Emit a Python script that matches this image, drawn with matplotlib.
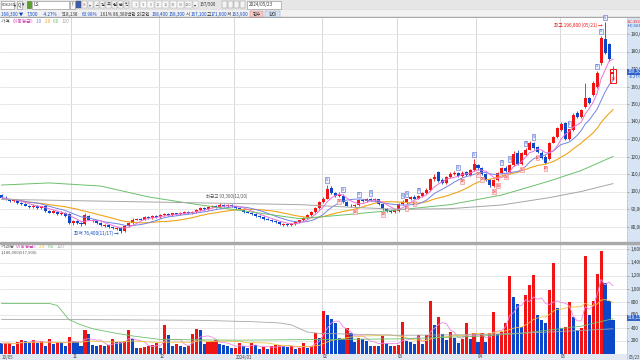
import numpy as np
import pandas as pd
import matplotlib
matplotlib.use("Agg")
import matplotlib.pyplot as plt
from matplotlib.patches import Rectangle
from matplotlib.lines import Line2D
from matplotlib.transforms import blended_transform_factory as blend

plt.rcParams['font.family'] = ['Noto Sans CJK KR', 'DejaVu Sans']

# ---------------- data (price in thousand won, volume in thousand shares) -------------
month_labels = ["10/05", "11", "12", "2024/01", "02", "03", "04", "05"]
month_start_idx = [0, 18, 40, 59, 81, 100, 120, 141]
last_date = "05/23"

opens = [98, 96.5, 95.5, 94.5, 95, 93.5, 93, 92, 91, 92,
         90.5, 92, 89, 88, 88.5, 87, 88, 87, 82, 83,
         82, 81.5, 86, 84, 83, 82, 80.5, 81, 79.5, 78.5,
         79, 77.5, 80.5, 82, 84, 84.5, 84, 85.5, 85, 86,
         85.5, 86.5, 87.2, 86.5, 87.5, 87, 88, 88.5, 87.5, 88.5,
         89.5, 90.5, 90, 91, 92, 91, 92.2, 91.5, 92.5, 91.5,
         90.5, 90, 88.5, 88, 87, 86, 85.5, 84.5, 84, 83,
         82.5, 81, 81.5, 81, 81.5, 82.5, 83.5, 85, 86.5, 88.5,
         90.5, 94, 96, 102, 99, 97.5, 97.5, 94, 92, 91.5,
         92.5, 95, 94.5, 95.8, 95, 95.5, 93, 90, 89, 88.5,
         89, 93, 93.8, 95.5, 97, 96, 97.5, 99, 101, 107,
         111, 106.5, 105, 108.5, 110, 110.5, 109, 111, 109.5, 112.5,
         115, 113.5, 110, 106.5, 103, 106.5, 110.5, 113.5, 111, 115,
         122, 115.5, 121, 124, 128, 125.5, 122, 120, 118.5, 128,
         131, 135, 139, 130, 135, 145, 142.6, 148.3, 153.4, 155,
         159.7, 173.5, 187, 184, 167.1]
closes = [96.5, 95.5, 94.5, 95.2, 93.5, 93, 92, 91, 92, 90.5,
          91.5, 89, 88, 88.8, 87, 88, 86, 82, 83, 82,
          81.5, 86.5, 84, 83, 82, 81, 81, 79.5, 79, 79,
          77.5, 80.5, 82, 84, 84.5, 84, 85.5, 85, 86, 85.5,
          86.5, 87.2, 86.5, 87.5, 87, 88, 88.5, 87.5, 88.5, 89.5,
          90.5, 90, 91, 92, 91, 92.2, 91.5, 92.5, 91.5, 90.5,
          90, 88.5, 88, 87, 86, 85.5, 84.5, 84, 83, 82.5,
          81.5, 81.5, 81, 81.5, 82.5, 83.5, 85, 86.5, 88.5, 90.5,
          94, 96, 101.5, 99, 97.5, 98.2, 94, 92, 91.5, 92.5,
          95, 94.5, 95.8, 95, 95.5, 93, 90, 89, 88.5, 89.2,
          93, 93.8, 95.5, 97, 96, 97.5, 99, 101, 107, 108.5,
          106, 105, 108.5, 110, 110.8, 109, 110.8, 109.5, 112.5, 115.5,
          113.5, 110, 106.5, 103.5, 106.5, 110.5, 113.5, 111.5, 115, 121.5,
          115.5, 122, 124, 128, 125, 122.5, 119, 116.5, 128, 131,
          136.5, 138.5, 130, 135.5, 143.5, 142.6, 146.5, 153.4, 150.6, 162,
          167.7, 187.5, 179, 175.8, 168.3]
highs = [98.8, 97.2, 96, 95.8, 95.5, 94.2, 93.5, 92.5, 92.8, 92.3,
         92, 92.5, 89.5, 89.5, 89, 88.8, 88.5, 87.5, 84, 83.5,
         82.5, 87.5, 86.5, 84.5, 83.5, 82.5, 81.5, 81.5, 80, 79.5,
         79.5, 81, 82.5, 84.8, 85, 85, 86, 86, 86.5, 86.5,
         87, 87.8, 87.5, 88, 88, 88.5, 89, 89, 89, 90,
         91, 91, 91.5, 92.5, 92.5, 93.3, 92.8, 93, 92.8, 92,
         91, 90.5, 89, 88.5, 87.5, 86.5, 86, 85, 84.5, 83.5,
         83, 82, 82, 82, 83, 84, 85.5, 87, 89, 91,
         94.5, 97, 104, 103, 100, 99.5, 98.5, 94.5, 93, 93,
         95.8, 96, 96.5, 96.5, 96.5, 96, 93.5, 90.5, 89.5, 90,
         93.5, 95, 96, 97.5, 98, 98, 99.5, 102, 107.5, 110,
         112, 107.5, 109, 111, 111.5, 111, 111.5, 112, 113, 118.5,
         116, 114, 110.5, 107, 107, 111, 114, 114.5, 116, 123,
         123.5, 122.5, 125, 129, 128.5, 126, 123, 121, 128.5, 132,
         137, 140, 139.5, 136, 145, 146, 147, 162, 154, 163,
         169, 189, 196.8, 185, 171.6]
lows = [96, 95, 94, 94, 93, 92.5, 91.5, 90.5, 90.5, 90,
        90, 88.5, 87.5, 87.5, 86.5, 86.5, 85.5, 81.5, 81, 81.5,
        80.5, 81, 83.5, 82.5, 81.5, 80.5, 80, 79, 78.5, 78,
        76.4, 77, 80, 81.5, 83.5, 83.5, 83.5, 84.5, 84.5, 85,
        85, 86, 86, 86, 86.5, 86.5, 87.5, 87, 87, 88,
        89, 89.5, 89.5, 90.5, 90.5, 90.5, 91, 91, 91, 90,
        89.5, 88, 87.5, 86.5, 85.5, 85, 84, 83.5, 82.5, 82,
        81, 80.5, 80.5, 80.5, 81, 82, 83, 84.5, 86, 88,
        90, 93.5, 95.5, 98.5, 97, 97, 93.5, 91.5, 91, 91,
        92, 94, 94, 94.5, 94.5, 92.5, 89.5, 88.5, 88, 88,
        88.5, 92.5, 93, 95, 95.5, 95.5, 97, 98.5, 100.5, 106,
        105.5, 104.5, 104.5, 108, 109.5, 108.5, 108.5, 109, 109, 112,
        112.5, 109.5, 106, 102.5, 102.5, 106, 110, 111, 110.5, 114.5,
        115, 115, 120.5, 123.5, 124.5, 122, 118.5, 116, 118, 127.5,
        130.5, 134.5, 129.5, 129.5, 134.5, 142, 142, 148, 150, 154.5,
        159, 172.5, 178.5, 174.5, 163.9]
volumes = [158, 160, 162, 123, 174, 215, 200, 158, 215, 158,
           200, 123, 220, 140, 174, 170, 123, 260, 185, 180,
           123, 354, 297, 133, 123, 135, 108, 133, 220, 174,
           170, 200, 369, 230, 85, 92, 97, 123, 133, 158,
           82, 446, 277, 108, 140, 118, 97, 123, 297, 379,
           369, 140, 174, 200, 205, 140, 138, 108, 82, 92,
           169, 118, 82, 154, 133, 67, 103, 72, 118, 125,
           130, 108, 106, 110, 67, 92, 158, 82, 118, 313,
           236, 661, 585, 533, 467, 246, 226, 390, 323, 174,
           246, 226, 185, 108, 123, 108, 272, 154, 108, 118,
           133, 492, 185, 180, 149, 277, 140, 280, 810, 431,
           554, 297, 210, 328, 246, 158, 226, 467, 226, 313,
           174, 313, 174, 313, 646, 297, 338, 467, 1185, 862,
           769, 415, 903, 1050, 1210, 595, 518, 467, 980, 1389,
           697, 390, 415, 785, 554, 364, 400, 1500, 585, 810,
           1220, 1580, 1082, 810, 518]

# long moving averages (candle index, value)
ma60_idx = [0, 12, 25, 37, 50, 63, 75, 83, 88, 100, 113, 126, 138, 146, 154]
ma60_val = [103.7, 104.9, 103.1, 96.9, 92.3, 88.3, 84.5, 86, 87, 89.5, 92.5, 98, 106, 112, 120]
ma120_idx = [0, 25, 50, 75, 88, 100, 113, 126, 138, 146, 154]
ma120_val = [95.5, 94.5, 93.5, 92.5, 91, 89.8, 90.2, 92.3, 96.5, 100, 104.5]
vma60_idx = [0, 12, 14, 17, 20, 23, 28, 33, 40, 60, 80, 100, 120, 131, 146, 154]
vma60_val = [770, 770, 740, 520, 440, 380, 320, 270, 215, 205, 215, 225, 265, 310, 420, 535]
vma120_idx = [0, 25, 50, 63, 70, 73, 77, 80, 100, 120, 138, 154]
vma120_val = [525, 520, 510, 490, 470, 440, 330, 310, 280, 290, 330, 380]

buy_idx = [82, 86, 90, 93, 101, 102, 105, 115, 119, 126, 128, 132, 134, 143, 150, 151, 152]
sell_idx = [85, 89, 96, 102, 104, 116, 120, 121, 124, 125, 127, 131, 135, 137]

price_ticks = [80, 90, 100, 110, 120, 130, 140, 150, 160, 170, 180, 190]
vol_ticks = [200, 400, 600, 800, 1000, 1200, 1400, 1600]

# ---------------- figure ----------------
W, H = 640, 360
fig = plt.figure(figsize=(6.4, 3.6), dpi=100)
fig.patch.set_facecolor('white')

def fr(x0, y0, x1, y1):
    return [x0 / W, 1 - y1 / H, (x1 - x0) / W, (y1 - y0) / H]

def T(x, y, s, **kw):
    kw.setdefault('fontsize', 3.8)
    kw.setdefault('va', 'center')
    kw.setdefault('color', '#333333')
    return fig.text(x / W, 1 - y / H, s, **kw)

def R(x0, y0, x1, y1, **kw):
    r = Rectangle((x0 / W, 1 - y1 / H), (x1 - x0) / W, (y1 - y0) / H,
                  transform=fig.transFigure, **kw)
    fig.patches.append(r)
    return r

RED = '#f01414'
BLUE = '#0b47c9'
C5, C10, C20, C60, C120 = '#f070d8', '#7484e2', '#f0a418', '#6cc06c', '#a6a6a6'

PX0, PSTEP = 1.6, 3.97
XL = ((0 - PX0) / PSTEP, (627 - PX0) / PSTEP)

# header bands
R(0, 0, 640, 9.5, color='#e6e6e6', zorder=-5)
R(0, 9.5, 640, 10.3, color='#b8b8b8', zorder=-5)
R(0, 10.3, 640, 17.5, color='#f1f1f1', zorder=-5)
R(0, 17.5, 640, 18.3, color='#a8a8a8', zorder=-5)

# toolbar
R(0.5, 1, 13.5, 8.5, fc='white', ec='#8a8a8a', lw=0.4)
T(1.3, 4.8, "006260", fontsize=3.0)
T(14.2, 4.8, "▾", fontsize=3.0)
R(17, 1, 21.5, 8.5, fc='#f6f6f6', ec='#8a8a8a', lw=0.4)
T(17.6, 4.8, "Q", fontsize=3.3)
T(22, 4.8, "▾", fontsize=3.3)
R(27, 1.5, 31, 8, fc='#5aa02c', ec='#3d7a1c', lw=0.4)
R(32, 1, 69, 8.5, fc='white', ec='#8a8a8a', lw=0.4)
T(33.5, 4.8, "LS", fontsize=3.5)
R(70, 1, 75, 8.5, fc='#f6f6f6', ec='#8a8a8a', lw=0.4)
T(71.7, 4.8, "!", fontsize=3.5)
btns = [("", '#3b5fb0'), ("S", '#d03030'), ("▾", '#555555'), ("∠", '#555555'),
        ("일", '#333333'), ("주", '#333333'), ("월", '#333333'), ("분", '#333333'), ("틱", '#333333')]
for k, (s, col) in enumerate(btns):
    x0 = 76 + k * 6
    if k == 0:
        R(x0, 1.5, x0 + 5, 8, fc=col, ec='#555555', lw=0.3)
    else:
        R(x0, 1.5, x0 + 5, 8, fc='#f8f8f8', ec='#9a9a9a', lw=0.3)
        T(x0 + 0.8, 4.8, s, fontsize=3.0, color=col)
nums = ["1", "3", "5", "10", "15", "30", "60", "120"]
for k, s in enumerate(nums):
    x0 = 132 + k * 7.5
    R(x0, 1.5, x0 + 7, 8, fc='#f8f8f8', ec='#a8a8a8', lw=0.3)
    T(x0 + 3.5, 4.8, s, fontsize=2.8, ha='center', color='#777777')
R(193, 1.5, 198, 8, fc='#f8f8f8', ec='#a8a8a8', lw=0.3)
T(194.3, 4.8, "▾", fontsize=3.0)
T(200, 4.8, "157/500", fontsize=3.2)
for k in range(4):
    x0 = 222 + k * 6
    R(x0, 1.5, x0 + 5, 8, fc='#f4f4f4', ec='#8a8a8a', lw=0.3)
R(247, 1, 281, 8.5, fc='white', ec='#8a8a8a', lw=0.4)
T(248.5, 4.8, "2024/05/23", fontsize=3.3)

# info line
T(1, 14, "168,300 ▼", color=BLUE, fontsize=3.3)
T(27, 14, "7,500", color=BLUE, fontsize=3.3)
T(43, 14, "-4.27%", color=BLUE, fontsize=3.3)
T(62, 14, "518,138", fontsize=3.3)
T(82, 14, "63.98%", color=BLUE, fontsize=3.3)
T(100, 14, "1.61%", fontsize=3.3)
T(113, 14, "86,380백만 외국인", fontsize=3.3)
T(152, 14, "168,400", color=BLUE, fontsize=3.3)
T(169, 14, "158,300", color=BLUE, fontsize=3.3)
T(186, 14, "시", fontsize=3.3)
T(190.5, 14, "167,100", color=BLUE, fontsize=3.3)
T(206.5, 14, "고", fontsize=3.3)
T(211, 14, "171,600", color=BLUE, fontsize=3.3)
T(227, 14, "저", fontsize=3.3)
T(231.5, 14, "163,900", color=BLUE, fontsize=3.3)
R(250, 11, 263, 17, fc='#f6c9c9', ec='#c08080', lw=0.3)
T(256.5, 14, "현수", fontsize=3.2, ha='center')
R(265, 11, 280, 17, fc='#d6e4f6', ec='#8aa0c0', lw=0.3)
T(272.5, 14, "확대", fontsize=3.2, ha='center')

# right strip and date strip
ax_s = fig.add_axes(fr(627, 18.3, 640, 360))
ax_s.set_facecolor('#d7e4f4')
ax_s.set_xticks([]); ax_s.set_yticks([])
for sp in ax_s.spines.values():
    sp.set_visible(False)
ax_s.set_zorder(-1)
R(0, 353.5, 627, 360, color='#e2e9f2', zorder=-3)
fig.lines.append(Line2D([627 / W, 627 / W], [0, 1 - 18.3 / H], transform=fig.transFigure,
                        color='#9aa8b8', lw=0.5, ls=(0, (1, 1))))

# ---------------- price panel ----------------
ax_p = fig.add_axes(fr(0, 18.3, 627, 242))
ax_v = fig.add_axes(fr(0, 244, 627, 353.5))
n = len(closes)
idx = np.arange(n)
o = np.array(opens); c = np.array(closes); h = np.array(highs); l = np.array(lows)
up = c >= o
ccol = np.where(up, RED, BLUE)

ax_p.set_xlim(*XL)
ax_p.set_ylim(190 - (242 - 34) / 1.75, 190 + (34 - 18.3) / 1.75)
for sp in ax_p.spines.values():
    sp.set_visible(False)
ax_p.set_xticks([])
ax_p.yaxis.tick_right()
ax_p.set_yticks(price_ticks)
ax_p.set_yticklabels([f"{int(v * 1000):,}" for v in price_ticks])
ax_p.tick_params(axis='y', length=1.5, width=0.4, color='#777777', pad=1,
                 labelsize=3.4, labelcolor='#333333')
ax_p.grid(axis='y', color='#e4e4e4', lw=0.6)
ax_p.set_axisbelow(True)
for m in month_start_idx[1:]:
    ax_p.axvline(m - 0.4, color='#d2d2d2', lw=0.6, zorder=0)

ax_p.vlines(idx, l, h, colors=ccol, lw=0.6, zorder=2)
ax_p.bar(idx, np.maximum(np.abs(c - o), 0.35), bottom=np.minimum(o, c), width=0.76,
         color=ccol, edgecolor='none', zorder=2)

s = pd.Series(closes)
ax_p.plot(idx, s.rolling(20, min_periods=1).mean(), color=C20, lw=0.8, zorder=3)
ax_p.plot(idx, s.rolling(10, min_periods=1).mean(), color=C10, lw=0.7, zorder=3)
ax_p.plot(idx, s.rolling(5, min_periods=1).mean(), color=C5, lw=0.7, zorder=3)
ax_p.plot(ma60_idx, ma60_val, color=C60, lw=0.7, zorder=3)
ax_p.plot(ma120_idx, ma120_val, color=C120, lw=0.7, zorder=3)

# signal markers
for j in buy_idx:
    ax_p.text(j, highs[j] + 2.6, "S", fontsize=2.4, color='#2d4fc0', ha='center', va='center',
              zorder=4, bbox=dict(boxstyle='square,pad=0.2', fc='#eef2ff', ec='#5068d0', lw=0.4))
for j in sell_idx:
    ax_p.text(j, lows[j] - 2.6, "매", fontsize=2.2, color='#e02020', ha='center', va='center',
              zorder=4, bbox=dict(boxstyle='square,pad=0.15', fc='#ffe6e6', ec='#f08080', lw=0.4))

# current candle box
ax_p.add_patch(Rectangle((n - 1 - 0.85, 162.2), 1.7, 8.0, fill=False, ec=RED, lw=0.7, zorder=5))
ax_p.text(n - 1, 164.5, "매", fontsize=2.2, color=RED, ha='center', va='center', zorder=5)

# annotations
ax_p.text(152 - 0.6, 195.2, "최고 196,800 (05/21) →", color=RED, fontsize=3.4,
          ha='right', va='center', zorder=5)
ax_p.text(29.6, 76.4, "최저 76,400(11/17) →", color=BLUE, fontsize=3.4,
          ha='right', va='center', zorder=5)
ax_p.text(56.8, 97.2, "최근고 93,300(12/20)", color='#555555', fontsize=3.2,
          ha='center', va='center', zorder=5)

# legend
leg = [("가격 ", '#555555'), ("이동평균 ", '#d040b0'), ("5 ", C5), ("10 ", C10),
       ("20 ", C20), ("60 ", C60), ("120", C120)]
xx = 1
for s_, col in leg:
    T(xx, 21.5, s_, color=col, fontsize=3.4)
    xx += 2.9 * len(s_) + (3 if any(ord(ch) > 1000 for ch in s_) else 0)

# price tag on axis
T(628, 72, "168,300", fontsize=3.2, color='white',
  bbox=dict(boxstyle='square,pad=0.15', fc='#2f62c8', ec='none'))
T(629, 77.5, "-4.27%", fontsize=3.0, color=BLUE)
T(628, 21, "LC:196,8", fontsize=3.0, color=RED)
T(628, 25, "HC:163,9", fontsize=3.0, color=BLUE)

# separator
R(0, 241.8, 627, 243.6, color='#a9a9a9', zorder=5)
R(627, 241.8, 640, 243.6, color='#a9a9a9', zorder=5)

# ---------------- volume panel ----------------
v = np.array(volumes, dtype=float)
vcol = [BLUE] + [RED if v[i] > v[i - 1] else BLUE for i in range(1, n)]
ax_v.set_xlim(*XL)
ax_v.set_ylim(0, (353.5 - 244) * 200 / 13)
for sp in ax_v.spines.values():
    sp.set_visible(False)
ax_v.set_xticks([])
ax_v.yaxis.tick_right()
ax_v.set_yticks(vol_ticks)
ax_v.set_yticklabels([f"{t:,}" for t in vol_ticks])
ax_v.tick_params(axis='y', length=1.5, width=0.4, color='#777777', pad=1,
                 labelsize=3.4, labelcolor='#333333')
ax_v.grid(axis='y', color='#e4e4e4', lw=0.6)
ax_v.set_axisbelow(True)
for m in month_start_idx[1:]:
    ax_v.axvline(m - 0.4, color='#d2d2d2', lw=0.6, zorder=0)
ax_v.bar(idx, v, width=0.78, color=vcol, edgecolor='none', zorder=2)
vs = pd.Series(volumes, dtype=float)
ax_v.plot(idx, vs.rolling(5, min_periods=1).mean(), color='#ee88e8', lw=0.6, zorder=3)
ax_v.plot(idx, vs.rolling(20, min_periods=1).mean(), color='#f2c040', lw=0.6, zorder=3)
ax_v.plot(vma60_idx, vma60_val, color=C60, lw=0.6, zorder=3)
ax_v.plot(vma120_idx, vma120_val, color=C120, lw=0.6, zorder=3)

vleg = [("거래량 ", '#555555'), ("이동평균 ", '#d040b0'), ("5 ", '#ee88e8'), ("20 ", '#f2c040'),
        ("60 ", C60), ("120", C120)]
xx = 1
for s_, col in vleg:
    T(xx, 246.5, s_, color=col, fontsize=3.4)
    xx += 2.9 * len(s_) + (3 if any(ord(ch) > 1000 for ch in s_) else 0)
T(1, 252, "1,180,000(517,900)", fontsize=3.0, color='#555555')

# current volume tag
T(628, 318, "518,138", fontsize=3.2, color='white',
  bbox=dict(boxstyle='square,pad=0.15', fc='#2f62c8', ec='none'))

# date labels
tr = blend(ax_v.transData, fig.transFigure)
for m, lab in zip(month_start_idx, month_labels):
    xpos = m - 0.4 if m > 0 else XL[0] + 0.2
    ax_v.text(xpos + 0.3, 1 - 357 / H, lab, transform=tr, fontsize=3.2, color='#444444',
              ha='left', va='center', clip_on=False)
T(629, 357, last_date, fontsize=3.2, color='#444444')

fig.savefig("out.png", dpi=100)
